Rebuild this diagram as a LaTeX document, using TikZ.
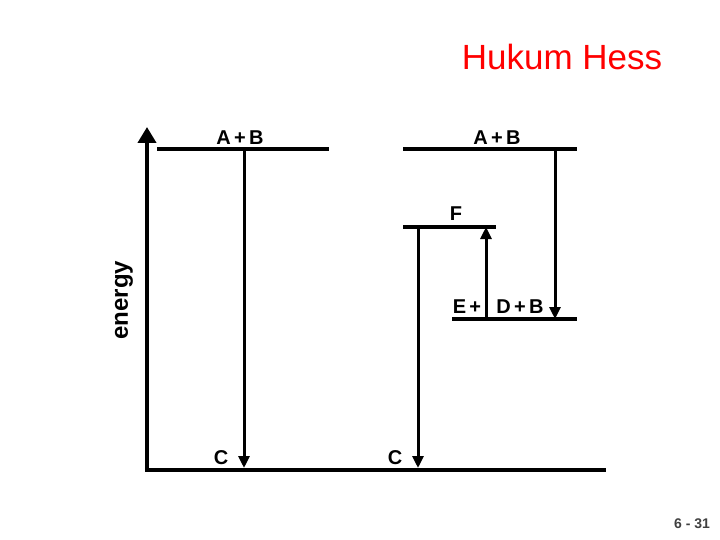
\documentclass[tikz,border=0pt]{standalone}
\usepackage{fontspec}
\setmainfont{Liberation Sans}
\usetikzlibrary{arrows.meta, positioning}

\tikzset{
  level/.style={line width=3.4pt},
  step arrow/.style={line width=3pt, -{Triangle[width=11pt,length=12pt]}},
  lbl/.style={font=\fontsize{20}{20}\selectfont\bfseries, inner sep=0pt}
}

\begin{document}
\begin{tikzpicture}[x=1pt, y=-1pt]
  \useasboundingbox (0, 0) rectangle (720, 540);

  \node[text=red, font=\fontsize{35}{35}\selectfont] (title) at (562, 57) {Hukum Hess};

  % axes
  \coordinate (origin) at (147, 470);
  \coordinate (top) at (147, 127);
  \coordinate (xend) at (606, 470);
  \draw[line width=4.4pt, -{Triangle[width=18pt,length=16pt]}] (origin) -- (top);
  \draw[line width=4.4pt] ([xshift=-2.2pt]origin) -- (xend);
  \node[lbl, rotate=90, font=\fontsize{24}{24}\selectfont\bfseries] (energy) at (124, 300) {energy};

  % left path
  \coordinate (ab1w) at (157, 149);
  \coordinate (ab1e) at (329, 149);
  \coordinate (ab1d) at (244, 149);
  \coordinate (c1) at (244, 468);
  \draw[level] (ab1w) -- (ab1e);
  \node[lbl] (ab1) at (240, 138) {A\,+\,B};
  \draw[step arrow] (ab1d) -- (c1);
  \node[lbl] (c1l) at (221, 458) {C};

  % right path
  \coordinate (ab2w) at (403, 149);
  \coordinate (ab2e) at (577, 149);
  \coordinate (ab2d) at (555, 149);
  \draw[level] (ab2w) -- (ab2e);
  \node[lbl] (ab2) at (497, 138) {A\,+\,B};

  \coordinate (fw) at (403, 227);
  \coordinate (fe) at (496, 227);
  \coordinate (fd) at (418, 227);
  \coordinate (fu) at (486, 227);
  \draw[level] (fw) -- (fe);
  \node[lbl] (fl) at (456, 214) {F};

  \coordinate (edw) at (452, 319);
  \coordinate (ede) at (577, 319);
  \coordinate (edu) at (486, 319);
  \coordinate (edd) at (555, 319);
  \draw[level] (edw) -- (ede);
  \node[lbl] (el) at (467, 307) {E\,+};
  \node[lbl] (dbl) at (520, 307) {D\,+\,B};

  \coordinate (c2) at (418, 468);
  \draw[step arrow] (ab2d) -- (edd);
  \draw[step arrow] (edu) -- (fu);
  \draw[step arrow] (fd) -- (c2);
  \node[lbl] (c2l) at (395, 458) {C};

  \node[font=\fontsize{14}{14}\selectfont\bfseries, text=black!75] (page) at (692, 524) {6 - 31};
\end{tikzpicture}
\end{document}
